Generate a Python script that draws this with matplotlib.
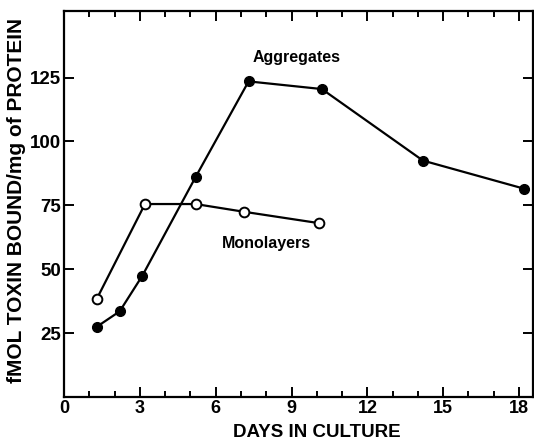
import matplotlib.pyplot as plt

plt.rcParams['font.family'] = ['Liberation Sans', 'DejaVu Sans']
plt.rcParams['font.weight'] = 'bold'
plt.rcParams['axes.labelweight'] = 'bold'

agg_days = [1.3, 2.2, 3.1, 5.2, 7.3, 10.2, 14.2, 18.2]
agg_bound = [27.5, 33.5, 47.5, 86, 123.5, 120.5, 92.5, 81.5]

mono_days = [1.3, 3.2, 5.2, 7.1, 10.1]
mono_bound = [38.5, 75.5, 75.5, 72.5, 68]

x_ticks = [0, 3, 6, 9, 12, 15, 18]
y_ticks = [25, 50, 75, 100, 125]

fig = plt.figure(figsize=(5.34, 4.45), dpi=100)
ax = fig.add_axes([0.12, 0.108, 0.878, 0.867])

ax.plot(agg_days, agg_bound, color='black', lw=1.6, marker='o', ms=7,
        mfc='black', mec='black')
ax.plot(mono_days, mono_bound, color='black', lw=1.6, marker='o', ms=7,
        mfc='white', mec='black', mew=1.4)

ax.text(9.2, 133, 'Aggregates', ha='center', va='center', fontsize=11.5)
ax.text(8.0, 60, 'Monolayers', ha='center', va='center', fontsize=11.5)

ax.set_xlim(0, 18.55)
ax.set_ylim(0, 151)
ax.set_xticks(x_ticks)
ax.set_xticks(range(0, 19), minor=True)
ax.set_yticks(y_ticks)

for s in ax.spines.values():
    s.set_linewidth(1.6)

ax.tick_params(which='both', direction='in', top=True, right=True, width=1.4)
ax.tick_params(which='major', length=7)
ax.tick_params(which='minor', length=4)
ax.tick_params(axis='x', labelsize=13, pad=2)
ax.tick_params(axis='y', labelsize=13.5, pad=2)

ax.set_xlabel('DAYS IN CULTURE', fontsize=13.5)
ax.set_ylabel('fMOL TOXIN BOUND/mg of PROTEIN', fontsize=15)
ax.xaxis.set_label_coords(0.54, -0.07)
ax.yaxis.set_label_coords(-0.082, 0.508)

fig.savefig('out.png', dpi=100)
